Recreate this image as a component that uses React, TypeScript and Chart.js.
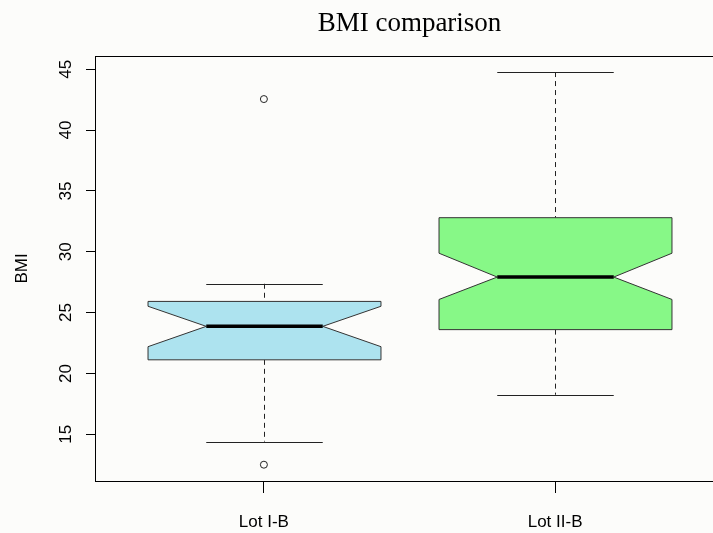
import React, { useEffect, useRef } from "react";
import { Chart, registerables } from "chart.js";

Chart.register(...registerables);

// ---- data ----
const categories = ["Lot I-B", "Lot II-B"];
const lowerWhisker = [14.4, 18.25];
const q1 = [21.12, 23.6];
const notchLow = [22.2, 26.08];
const median = [23.87, 27.92];
const notchHigh = [25.52, 29.88];
const q3 = [25.92, 32.8];
const upperWhisker = [27.37, 44.77];
const outliers = [[42.55, 12.5], []];
const boxFill = ["#ADE3EF", "#87F887"];
const yTicks = [15, 20, 25, 30, 35, 40, 45];
const yMin = 11.16;
const yMax = 46.09;
const xMin = 0.42;
const xMax = 2.58;
const titleText = "BMI comparison";
const yTitleText = "BMI";

const SANS = "'Liberation Sans', Arial, sans-serif";
const SERIF = "'Liberation Serif', 'Times New Roman', serif";

const boxPlugin = {
  id: "notchedBoxes",
  beforeDatasetsDraw(chart: any) {
    const { ctx } = chart;
    const xs = chart.scales.x;
    const ys = chart.scales.y;
    const u = xs.getPixelForValue(1) - xs.getPixelForValue(0);
    const py = (v: number) => ys.getPixelForValue(v);
    categories.forEach((_, i) => {
      const cx = Math.round(xs.getPixelForValue(i + 1)) + 0.5;
      const hw = 0.4 * u;
      const nw = 0.2 * u;
      const sw = 0.2 * u;
      ctx.save();
      ctx.strokeStyle = "#222";
      ctx.lineWidth = 1;
      // dashed whiskers
      ctx.setLineDash([5, 4]);
      ctx.beginPath();
      ctx.moveTo(cx, py(upperWhisker[i]));
      ctx.lineTo(cx, py(q3[i]));
      ctx.moveTo(cx, py(q1[i]));
      ctx.lineTo(cx, py(lowerWhisker[i]));
      ctx.stroke();
      ctx.setLineDash([]);
      // staples
      ctx.beginPath();
      const yu = Math.round(py(upperWhisker[i])) + 0.5;
      const yl = Math.round(py(lowerWhisker[i])) + 0.5;
      ctx.moveTo(cx - sw, yu);
      ctx.lineTo(cx + sw, yu);
      ctx.moveTo(cx - sw, yl);
      ctx.lineTo(cx + sw, yl);
      ctx.stroke();
      // notched box
      ctx.beginPath();
      ctx.moveTo(cx - hw, py(q1[i]));
      ctx.lineTo(cx - hw, py(notchLow[i]));
      ctx.lineTo(cx - nw, py(median[i]));
      ctx.lineTo(cx - hw, py(notchHigh[i]));
      ctx.lineTo(cx - hw, py(q3[i]));
      ctx.lineTo(cx + hw, py(q3[i]));
      ctx.lineTo(cx + hw, py(notchHigh[i]));
      ctx.lineTo(cx + nw, py(median[i]));
      ctx.lineTo(cx + hw, py(notchLow[i]));
      ctx.lineTo(cx + hw, py(q1[i]));
      ctx.closePath();
      ctx.fillStyle = boxFill[i];
      ctx.fill();
      ctx.strokeStyle = "#333";
      ctx.stroke();
      // median
      ctx.beginPath();
      ctx.lineWidth = 3.5;
      ctx.strokeStyle = "#000";
      ctx.moveTo(cx - nw, py(median[i]));
      ctx.lineTo(cx + nw, py(median[i]));
      ctx.stroke();
      ctx.restore();
    });
  },
  afterDraw(chart: any) {
    const { ctx, chartArea } = chart;
    const ys = chart.scales.y;
    ctx.save();
    ctx.strokeStyle = "#000";
    ctx.lineWidth = 1;
    ctx.strokeRect(
      Math.round(chartArea.left) + 0.5,
      Math.round(chartArea.top) + 0.5,
      Math.round(chartArea.right - chartArea.left),
      Math.round(chartArea.bottom - chartArea.top)
    );
    // rotated y tick labels
    ctx.fillStyle = "#000";
    ctx.font = `17px ${SANS}`;
    ctx.textAlign = "center";
    ctx.textBaseline = "alphabetic";
    yTicks.forEach((v) => {
      ctx.save();
      ctx.translate(chartArea.left - 24, ys.getPixelForValue(v));
      ctx.rotate(-Math.PI / 2);
      ctx.fillText(String(v), 0, 0);
      ctx.restore();
    });
    ctx.restore();
  },
};

export default function App() {
  const ref = useRef<HTMLCanvasElement | null>(null);
  useEffect(() => {
    if (!ref.current) return;
    const chart = new Chart(ref.current, {
      type: "scatter",
      data: {
        datasets: [
          {
            label: "outliers",
            data: outliers.flatMap((arr, i) => arr.map((v) => ({ x: i + 1, y: v }))),
            pointRadius: 3.5,
            pointBorderWidth: 1,
            pointBorderColor: "#222",
            pointBackgroundColor: "rgba(0,0,0,0)",
            showLine: false,
          },
        ],
      },
      options: {
        responsive: false,
        devicePixelRatio: 1,
        animation: false,
        layout: { padding: { left: 0, right: 36, top: 0, bottom: 0 } },
        plugins: {
          legend: { display: false },
          tooltip: { enabled: false },
          title: {
            display: true,
            text: titleText,
            color: "#000",
            fullSize: false,
            font: { family: SERIF, size: 27, weight: "normal" },
            padding: { top: 8, bottom: 15.6 },
          },
        },
        scales: {
          x: {
            type: "linear",
            min: xMin,
            max: xMax,
            afterBuildTicks: (s: any) => {
              s.ticks = categories.map((_, i) => ({ value: i + 1 }));
            },
            ticks: {
              autoSkip: false,
              maxRotation: 0,
              minRotation: 0,
              color: "#000",
              padding: 19,
              font: { family: SANS, size: 17 },
              callback: (_v: any, idx: number) => categories[idx] ?? "",
            },
            grid: { drawOnChartArea: false, drawTicks: true, tickLength: 12, color: "#000", lineWidth: 1 },
            border: { display: false },
            afterFit: (s: any) => {
              s.height = 52;
            },
          },
          y: {
            type: "linear",
            min: yMin,
            max: yMax,
            afterBuildTicks: (s: any) => {
              s.ticks = yTicks.map((v) => ({ value: v }));
            },
            ticks: { display: false },
            grid: { drawOnChartArea: false, drawTicks: true, tickLength: 9, color: "#000", lineWidth: 1 },
            border: { display: false },
            title: {
              display: true,
              text: yTitleText,
              color: "#000",
              font: { family: SANS, size: 17 },
              padding: { top: 12, bottom: 0 },
            },
            afterFit: (s: any) => {
              s.width = 95;
            },
          },
        },
      } as any,
      plugins: [boxPlugin],
    });
    return () => chart.destroy();
  }, []);

  return (
    <div
      style={{
        position: "fixed",
        left: 0,
        top: 0,
        width: 713,
        height: 533,
        overflow: "hidden",
        background: "#FCFCFA",
      }}
    >
      <canvas ref={ref} width={760} height={533} style={{ display: "block", width: 760, height: 533 }} />
    </div>
  );
}
